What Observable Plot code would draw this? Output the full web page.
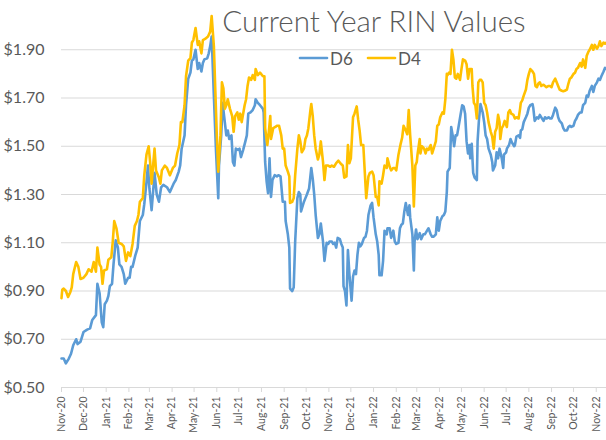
<!DOCTYPE html>
<html><head><meta charset="utf-8">
<script src="https://cdn.jsdelivr.net/npm/d3@7"></script>
<script src="https://cdn.jsdelivr.net/npm/@observablehq/plot@0.6"></script>
<style>
body{margin:0;background:#fff;}
#chart{width:606px;height:440px;}
</style></head><body><div id="chart"></div>
<script>
const titleText = "Current Year RIN Values";
const startDate = "2020-11-01";
const endDate = "2022-11-15";
const seriesNames = ["D6", "D4"];
const seriesColors = ["#5B9BD5", "#FFC000"];
const yTicks = [0.5, 0.7, 0.9, 1.1, 1.3, 1.5, 1.7, 1.9];

// days since startDate, and value in $
const d6Days = [0,3,6,10,13,16,20,22,26,30,35,39,42,47,49,52,55,57,59,62,64,66,69,71,74,77,79,82,85,87,91,93,95,97,101,104,107,111,113,116,118,120,123,125,127,130,133,136,139,144,148,153,156,160,162,164,168,170,173,176,178,180,183,186,188,191,193,195,199,201,203,205,208,211,214,215,218,220,222,225,227,229,232,234,236,238,241,243,245,248,251,253,255,258,261,264,265,268,271,275,276,278,280,282,284,286,288,291,294,296,299,302,305,306,309,311,312,315,317,319,322,324,326,327,331,333,335,338,341,343,345,347,350,352,354,357,359,362,364,366,369,371,373,375,377,380,382,384,385,387,389,391,393,396,398,400,402,404,406,408,410,413,415,417,419,422,424,426,429,431,433,434,437,439,441,444,445,448,450,453,455,457,460,462,464,466,468,470,473,475,476,479,481,482,484,486,489,491,494,496,499,501,504,506,508,511,513,515,517,520,522,524,526,527,530,532,534,536,538,540,542,545,547,549,551,553,555,557,558,560,562,564,567,568,570,572,575,577,579,581,583,586,588,589,592,594,596,598,601,603,604,607,608,611,613,615,618,619,621,624,626,627,629,631,634,636,638,640,643,644,646,649,651,653,655,658,660,662,665,667,669,671,674,676,678,680,683,685,687,690,692,694,696,699,701,703,705,708,710,712,715,717,719,721,724,726,728,731,733,735,737,740,742,744];
const d6Values = [0.62,0.62,0.60,0.62,0.64,0.675,0.70,0.68,0.69,0.73,0.74,0.745,0.78,0.80,0.93,0.89,0.77,0.75,0.845,0.86,0.88,0.92,0.93,1.01,1.11,1.08,1.01,1.00,0.97,0.93,0.955,0.955,1.00,1.00,1.05,1.08,1.19,1.215,1.26,1.35,1.42,1.325,1.235,1.31,1.39,1.30,1.27,1.33,1.34,1.33,1.31,1.345,1.36,1.395,1.42,1.49,1.545,1.67,1.78,1.805,1.855,1.86,1.90,1.82,1.845,1.81,1.845,1.86,1.865,1.885,1.915,1.955,1.71,1.475,1.285,1.42,1.545,1.68,1.625,1.545,1.565,1.53,1.545,1.435,1.42,1.49,1.485,1.49,1.455,1.485,1.52,1.545,1.635,1.64,1.65,1.67,1.695,1.68,1.67,1.655,1.64,1.435,1.355,1.305,1.45,1.29,1.36,1.38,1.375,1.38,1.375,1.27,1.27,1.19,1.135,1.08,0.91,0.90,0.915,1.105,1.285,1.31,1.30,1.23,1.27,1.285,1.30,1.325,1.41,1.365,1.30,1.215,1.12,1.135,1.18,1.105,1.025,1.10,1.095,1.105,1.105,1.095,1.10,1.08,1.12,1.115,1.095,1.08,0.92,0.90,0.84,1.07,0.97,0.86,0.96,0.985,0.97,1.05,1.10,1.085,1.095,1.12,1.125,1.15,1.215,1.255,1.265,1.205,1.135,1.105,1.05,0.965,0.965,1.025,1.15,1.135,1.16,1.16,1.12,1.15,1.105,1.095,1.10,1.16,1.175,1.18,1.23,1.265,1.215,1.255,1.205,1.135,0.985,1.105,1.155,1.115,1.14,1.115,1.135,1.135,1.15,1.16,1.135,1.125,1.125,1.135,1.205,1.15,1.19,1.21,1.215,1.23,1.31,1.395,1.41,1.58,1.545,1.50,1.545,1.545,1.58,1.635,1.67,1.665,1.635,1.52,1.47,1.505,1.45,1.51,1.39,1.37,1.36,1.52,1.615,1.675,1.64,1.60,1.545,1.53,1.49,1.465,1.435,1.40,1.42,1.475,1.45,1.49,1.45,1.41,1.465,1.475,1.49,1.505,1.53,1.515,1.50,1.505,1.54,1.545,1.535,1.565,1.57,1.60,1.62,1.635,1.66,1.67,1.675,1.66,1.605,1.62,1.615,1.63,1.62,1.605,1.62,1.615,1.62,1.615,1.615,1.63,1.66,1.65,1.62,1.605,1.595,1.575,1.565,1.565,1.58,1.585,1.58,1.585,1.605,1.615,1.63,1.64,1.64,1.67,1.68,1.71,1.705,1.73,1.75,1.725,1.75,1.765,1.78,1.775,1.79,1.81,1.825,1.82];

const d4Days = [0,1,3,6,9,12,14,16,20,23,26,30,34,37,41,44,47,49,52,54,56,58,62,64,68,70,72,75,78,82,85,88,91,94,97,100,103,105,107,111,113,116,119,121,123,127,129,133,135,137,141,144,148,152,155,158,161,163,165,168,170,173,176,178,180,183,186,188,191,193,196,200,203,205,208,210,212,214,217,219,221,223,225,227,230,233,235,237,240,242,244,246,250,252,254,256,259,261,264,265,268,271,275,277,278,281,283,285,286,289,292,294,297,300,302,304,306,309,311,312,315,317,319,322,324,326,328,331,333,335,337,340,341,343,345,347,350,352,354,357,359,361,364,367,369,372,375,378,382,384,386,389,391,393,395,398,400,403,405,407,409,412,414,416,419,421,424,426,429,431,433,434,437,439,441,444,445,448,450,453,455,457,460,463,465,467,470,472,474,476,479,481,483,485,486,489,490,492,495,497,499,501,504,506,508,511,513,515,517,520,522,524,526,527,529,531,533,535,537,539,541,544,546,548,551,553,555,557,560,561,563,565,567,569,571,573,575,577,579,581,583,586,588,590,592,594,596,598,599,601,603,605,608,610,612,614,617,619,621,624,626,627,629,631,634,636,638,640,643,645,647,649,651,653,655,658,660,662,665,667,669,671,674,676,678,680,683,685,687,690,692,694,696,699,701,703,705,708,710,712,715,717,719,721,724,726,728,731,733,735,737,740,742,744];
const d4Values = [0.87,0.905,0.91,0.90,0.875,0.895,0.915,0.97,1.02,1.00,0.95,0.955,0.97,0.99,0.98,1.02,0.98,1.08,1.01,1.00,0.93,0.985,0.99,1.03,1.04,1.105,1.19,1.16,1.10,1.095,1.085,1.025,1.06,1.045,1.095,1.17,1.19,1.215,1.27,1.285,1.38,1.465,1.50,1.435,1.345,1.49,1.40,1.37,1.345,1.40,1.42,1.41,1.38,1.41,1.42,1.47,1.505,1.60,1.60,1.67,1.79,1.855,1.865,1.93,1.94,1.99,1.92,1.935,1.885,1.94,1.945,1.955,1.975,2.04,1.915,1.73,1.545,1.395,1.545,1.765,1.74,1.655,1.67,1.695,1.655,1.625,1.56,1.625,1.64,1.61,1.635,1.60,1.67,1.695,1.75,1.785,1.775,1.795,1.775,1.82,1.795,1.805,1.79,1.79,1.575,1.505,1.56,1.625,1.53,1.575,1.58,1.585,1.585,1.545,1.49,1.49,1.42,1.395,1.375,1.265,1.27,1.285,1.38,1.49,1.545,1.52,1.475,1.49,1.53,1.545,1.575,1.655,1.675,1.625,1.545,1.49,1.445,1.465,1.52,1.435,1.36,1.42,1.42,1.415,1.42,1.415,1.43,1.44,1.425,1.42,1.37,1.375,1.505,1.43,1.45,1.62,1.635,1.665,1.61,1.565,1.505,1.505,1.395,1.285,1.375,1.39,1.395,1.38,1.29,1.29,1.255,1.355,1.345,1.38,1.42,1.41,1.45,1.415,1.40,1.41,1.41,1.40,1.465,1.51,1.535,1.585,1.565,1.55,1.65,1.545,1.42,1.25,1.42,1.435,1.465,1.53,1.47,1.50,1.49,1.47,1.49,1.485,1.505,1.47,1.49,1.52,1.585,1.59,1.62,1.64,1.635,1.695,1.80,1.795,1.805,1.80,1.90,1.86,1.785,1.78,1.80,1.775,1.82,1.86,1.855,1.84,1.78,1.82,1.82,1.75,1.68,1.67,1.615,1.765,1.775,1.775,1.765,1.68,1.67,1.64,1.60,1.56,1.54,1.49,1.56,1.575,1.63,1.60,1.53,1.575,1.585,1.605,1.58,1.64,1.65,1.635,1.63,1.615,1.62,1.615,1.655,1.68,1.69,1.71,1.735,1.775,1.80,1.82,1.81,1.80,1.75,1.745,1.76,1.765,1.75,1.755,1.75,1.745,1.75,1.75,1.745,1.765,1.78,1.765,1.75,1.735,1.73,1.728,1.73,1.735,1.76,1.78,1.785,1.80,1.805,1.82,1.825,1.845,1.83,1.86,1.825,1.875,1.89,1.90,1.92,1.90,1.92,1.905,1.915,1.935,1.915,1.93,1.925,1.93];

const start = new Date(startDate + "T00:00:00Z");
const end = new Date(endDate + "T00:00:00Z");
const toDate = d => d3.utcDay.offset(start, d);
const data = [
  ...d6Days.map((d, i) => ({date: toDate(d), value: d6Values[i], series: "D6"})),
  ...d4Days.map((d, i) => ({date: toDate(d), value: d4Values[i], series: "D4"}))
];
const monthTicks = d3.utcMonths(start, end);

const plot = Plot.plot({
  width: 606, height: 440,
  marginLeft: 61, marginRight: 0, marginTop: 1, marginBottom: 53,
  style: {fontFamily: "Lato, 'Open Sans', sans-serif", color: "#595959", background: "#fff"},
  x: {type: "utc", domain: [start, end]},
  y: {domain: [0.5, 2.1]},
  color: {domain: seriesNames, range: seriesColors},
  marks: [
    Plot.gridY(yTicks, {stroke: "#d9d9d9", strokeOpacity: 1, strokeWidth: 1}),
    Plot.ruleY([0.5], {stroke: "#d9d9d9", strokeWidth: 1}),
    Plot.axisY(yTicks, {tickSize: 0, tickPadding: 17, tickFormat: d => "$" + d.toFixed(2), fontSize: 16, fill: "#595959", label: null}),
    Plot.axisX(monthTicks, {tickFormat: d3.utcFormat("%b-%y"), tickRotate: -90, tickSize: 5, tickPadding: 4, stroke: "#d9d9d9", strokeOpacity: 1, fill: "#595959", fontSize: 10.5, label: null}),
    Plot.lineY(data, {x: "date", y: "value", z: "series", stroke: "series", strokeWidth: 2.6})
  ]
});
document.getElementById("chart").appendChild(plot);

const svg = d3.select(plot);
svg.append("text").attr("x", 374).attr("y", 32).attr("text-anchor", "middle")
  .attr("font-family", "Lato, 'Open Sans', sans-serif").attr("font-weight", 300)
  .attr("font-size", 29.5).attr("fill", "#595959").text(titleText);
const legendX = [300, 368];
seriesNames.forEach((name, i) => {
  const g = svg.append("g");
  g.append("line").attr("x1", legendX[i]).attr("x2", legendX[i] + 27).attr("y1", 58).attr("y2", 58)
    .attr("stroke", seriesColors[i]).attr("stroke-width", 2.6).attr("stroke-linecap", "round");
  g.append("text").attr("x", legendX[i] + 30).attr("y", 64.5).attr("text-anchor", "start")
    .attr("font-family", "Lato, 'Open Sans', sans-serif").attr("font-size", 17).attr("fill", "#595959").text(name);
});
</script></body></html>
